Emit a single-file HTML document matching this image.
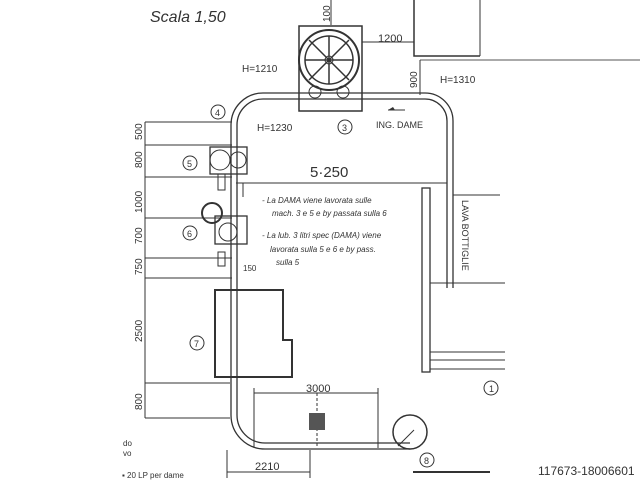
<!DOCTYPE html>
<html><head><meta charset="utf-8"><style>
html,body{margin:0;padding:0;background:#fff;}
svg{display:block;}
text{font-family:"Liberation Sans",sans-serif;fill:#333;}
</style></head><body>
<svg width="640" height="480" viewBox="0 0 640 480" xmlns="http://www.w3.org/2000/svg">
<rect width="640" height="480" fill="#fff"/>
<g stroke="#333" fill="none" stroke-width="1">
<polyline points="414,0 414,56 480,56" stroke-width="1.5"/>
<line x1="480" y1="0" x2="480" y2="56"/>
<line x1="420" y1="60" x2="640" y2="60" stroke="#555"/>
<line x1="420" y1="60" x2="420" y2="95"/>
<rect x="299" y="26" width="63" height="85" stroke-width="1.5"/>
<circle cx="329" cy="60" r="30" stroke-width="2"/>
<circle cx="329" cy="60" r="24" stroke-width="1.5"/>
<circle cx="329" cy="60" r="4"/>
<path d="M309,40 L349,80 M349,40 L309,80 M329,36 L329,84 M305,60 L353,60" stroke-width="1.5"/>
<circle cx="315" cy="92" r="6"/><circle cx="343" cy="92" r="6"/>
<line x1="331" y1="0" x2="331" y2="25"/>
<line x1="362" y1="42" x2="414" y2="42"/>
<!-- conveyor -->
<path d="M231,415 L231,125 A32,32 0 0 1 263,93 L425,93 A28,28 0 0 1 453,121 L453,288" stroke-width="1.3"/>
<path d="M237,415 L237,125 A26,26 0 0 1 263,99 L425,99 A22,22 0 0 1 447,121 L447,288" stroke-width="1.3"/>
<path d="M231,415 A34,34 0 0 0 265,449 L410,449" stroke-width="1.3"/>
<path d="M237,415 A28,28 0 0 0 265,443 L410,443" stroke-width="1.3"/>
<rect x="422" y="188" width="8" height="184" stroke-width="1.3"/>
<path d="M430,283 L505,283 M430,352 L505,352 M430,360 L505,360 M430,369 L505,369 M453,195 L500,195"/>
<polygon points="215,290 283,290 283,340 292,340 292,377 215,377" stroke-width="2"/>
<line x1="145" y1="122" x2="145" y2="418"/>
<path d="M145,122 L232,122 M145,145 L232,145 M145,177 L232,177 M145,218 L232,218 M145,258 L232,258 M145,278 L232,278 M145,383 L230,383 M145,418 L230,418"/>
<rect x="210" y="147" width="37" height="27" stroke-width="1.3"/>
<circle cx="220" cy="160" r="10"/><circle cx="238" cy="160" r="8"/>
<rect x="218" y="174" width="7" height="16"/>
<circle cx="212" cy="213" r="10" stroke-width="2"/>
<rect x="215" y="216" width="32" height="28" stroke-width="1.3"/>
<circle cx="228" cy="232" r="9"/>
<rect x="218" y="252" width="7" height="14"/>
<line x1="236" y1="183" x2="447" y2="183"/>
<line x1="254" y1="393" x2="378" y2="393"/>
<line x1="254" y1="388" x2="254" y2="448"/><line x1="378" y1="388" x2="378" y2="448"/>
<line x1="317" y1="393" x2="317" y2="448" stroke-dasharray="3,2"/>
<line x1="227" y1="450" x2="227" y2="478"/><line x1="310" y1="450" x2="310" y2="478"/>
<line x1="227" y1="472" x2="310" y2="472"/>
<circle cx="410" cy="432" r="17" stroke-width="1.5"/>
<line x1="398" y1="446" x2="414" y2="430"/>
<circle cx="218" cy="112" r="7"/><circle cx="190" cy="163" r="7"/><circle cx="190" cy="233" r="7"/>
<circle cx="345" cy="127" r="7"/><circle cx="197" cy="343" r="7"/><circle cx="491" cy="388" r="7"/><circle cx="427" cy="460" r="7"/>
<line x1="388" y1="110" x2="405" y2="110"/>
<line x1="243" y1="183" x2="243" y2="197"/>
<line x1="413" y1="472" x2="490" y2="472" stroke-width="2"/>
</g>
<rect x="309" y="413" width="16" height="17" fill="#555"/>
<polygon points="395,110 388,110 393,107" fill="#333"/>
<g font-size="11">
<text x="150" y="22" font-size="16" font-style="italic">Scala 1,50</text>
<text x="378" y="42">1200</text>
<text x="242" y="72" font-size="10">H=1210</text>
<text x="440" y="83" font-size="10">H=1310</text>
<text x="257" y="131" font-size="10">H=1230</text>
<text x="376" y="128" font-size="9">ING. DAME</text>
<text x="310" y="177" font-size="15">5·250</text>
<text x="215" y="116" font-size="9">4</text><text x="187" y="167" font-size="9">5</text>
<text x="187" y="237" font-size="9">6</text><text x="342" y="131" font-size="9">3</text>
<text x="194" y="347" font-size="9">7</text><text x="489" y="392" font-size="9">1</text><text x="424" y="464" font-size="9">8</text>
<text x="306" y="392">3000</text><text x="255" y="470">2210</text>
<text x="243" y="271" font-size="8">150</text>
<g font-size="8" font-style="italic" fill="#444">
<text x="262" y="203">- La DAMA viene lavorata sulle</text>
<text x="272" y="216">mach. 3 e 5 e by passata sulla 6</text>
<text x="262" y="238">- La lub. 3 litri spec (DAMA) viene</text>
<text x="270" y="252">lavorata sulla 5 e 6 e by pass.</text>
<text x="276" y="265">sulla 5</text>
</g>
<text x="123" y="446" font-size="8">do</text><text x="123" y="456" font-size="8">vo</text>
<text x="122" y="478" font-size="8">▪ 20 LP per dame</text>
<g font-size="10">
<text transform="translate(142,140) rotate(-90)">500</text>
<text transform="translate(142,168) rotate(-90)">800</text>
<text transform="translate(142,213) rotate(-90)">1000</text>
<text transform="translate(142,244) rotate(-90)">700</text>
<text transform="translate(142,275) rotate(-90)">750</text>
<text transform="translate(142,342) rotate(-90)">2500</text>
<text transform="translate(142,410) rotate(-90)">800</text>
<text transform="translate(330,22) rotate(-90)">100</text>
<text transform="translate(417,88) rotate(-90)">900</text>
</g>
<text transform="translate(462,200) rotate(90)" font-size="9">LAVA BOTTIGLIE</text>
<text x="538" y="475" font-size="12" fill="#555">117673-18006601</text>
</g>
</svg>
</body></html>
